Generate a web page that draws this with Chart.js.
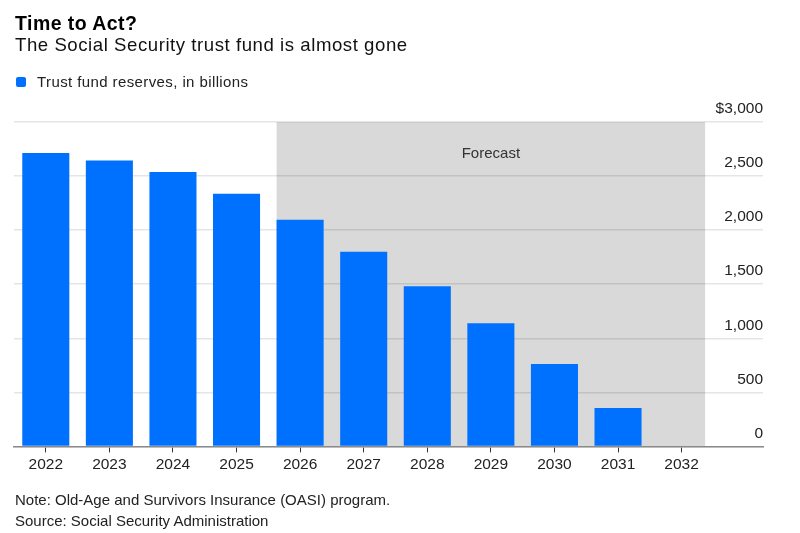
<!DOCTYPE html>
<html>
<head>
<meta charset="utf-8">
<script src="https://cdn.jsdelivr.net/npm/chart.js@4.4.1/dist/chart.umd.min.js"></script>
<style>
  html, body { margin: 0; padding: 0; background: #fff; }
  body { width: 800px; height: 533px; position: relative; overflow: hidden;
         font-family: "Liberation Sans", Arial, sans-serif; color: #111; }
  .t { position: absolute; left: 15px; line-height: 1; white-space: nowrap; }
  #title { top: 14px; font-size: 19.5px; font-weight: bold; color: #000; letter-spacing: 0.45px; }
  #subtitle { top: 36px; font-size: 18.6px; color: #111; letter-spacing: 0.55px; }
  #legend { top: 74px; font-size: 15px; color: #222; left: 37px; letter-spacing: 0.4px; }
  #swatch { position: absolute; left: 16px; top: 77px; width: 10px; height: 10px; border-radius: 2px; }
  #note { top: 492px; font-size: 15px; color: #222; }
  #source { top: 513px; font-size: 15px; color: #222; }
  #wrap { position: absolute; left: 0; top: 0; width: 800px; height: 533px; }
</style>
</head>
<body>
<div id="wrap"><canvas id="c"></canvas></div>
<div class="t" id="title">Time to Act?</div>
<div class="t" id="subtitle">The Social Security trust fund is almost gone</div>
<div id="swatch"></div>
<div class="t" id="legend">Trust fund reserves, in billions</div>
<div class="t" id="note">Note: Old-Age and Survivors Insurance (OASI) program.</div>
<div class="t" id="source">Source: Social Security Administration</div>
<script>
// ---- data ----
const years = [2022, 2023, 2024, 2025, 2026, 2027, 2028, 2029, 2030, 2031, 2032];
const reserves = [2713, 2643, 2537, 2337, 2096, 1800, 1481, 1139, 763, 356, 0];
const seriesLabel = 'Trust fund reserves, in billions';
const yTicks = [0, 500, 1000, 1500, 2000, 2500, 3000];
const forecastStart = 2026;
const forecastLabel = 'Forecast';
const xMin = 2021.5;
const xMax = 2033.28;

const BLUE = '#0070ff';
document.getElementById('swatch').style.background = BLUE;

const FONT = '"Liberation Sans", Arial, sans-serif';

const forecastPlugin = {
  id: 'forecast',
  beforeDraw(chart) {
    const meta = chart.getDatasetMeta(0);
    const y = chart.scales.y;
    const i0 = years.indexOf(forecastStart);
    const first = meta.data[i0];
    const last = meta.data[meta.data.length - 1];
    if (!first || !last) return;
    const left = first.x - first.width / 2;
    const right = last.x + last.width / 2;
    const top = y.getPixelForValue(yTicks[yTicks.length - 1]);
    const bottom = y.getPixelForValue(0);
    const ctx = chart.ctx;
    ctx.save();
    ctx.fillStyle = '#d9d9d9';
    ctx.fillRect(left, top, right - left, bottom - top);
    ctx.fillStyle = '#333';
    ctx.font = '15px ' + FONT;
    ctx.textAlign = 'center';
    ctx.textBaseline = 'middle';
    ctx.fillText(forecastLabel, (left + right) / 2, top + 32);
    ctx.restore();
  }
};

new Chart(document.getElementById('c'), {
  type: 'bar',
  data: {
    datasets: [{
      label: seriesLabel,
      data: years.map((yr, i) => ({ x: yr, y: reserves[i] })),
      backgroundColor: BLUE,
      borderWidth: 0,
      barPercentage: 0.74,
      categoryPercentage: 1.0
    }]
  },
  options: {
    responsive: true,
    maintainAspectRatio: false,
    animation: false,
    devicePixelRatio: 1,
    layout: { padding: { left: 14, right: 37, top: 122, bottom: 56 } },
    plugins: { legend: { display: false }, tooltip: { enabled: false }, title: { display: false } },
    scales: {
      x: {
        type: 'linear',
        offset: false,
        min: xMin,
        max: xMax,
        afterBuildTicks: axis => { axis.ticks = years.map(v => ({ value: v })); },
        grid: { display: true, drawOnChartArea: false, drawTicks: true, tickLength: 6, color: '#333', offset: false },
        border: { display: true, color: '#8a8a8a', width: 1.5 },
        ticks: {
          autoSkip: false, maxRotation: 0, padding: 3,
          color: '#222', font: { family: FONT, size: 15.5 },
          callback: v => String(v)
        }
      },
      y: {
        position: 'right',
        min: 0,
        max: 3000,
        afterBuildTicks: axis => { axis.ticks = yTicks.map(v => ({ value: v })); },
        grid: { color: 'rgba(0,0,0,0.1)', lineWidth: 1.5, drawTicks: false },
        border: { display: false },
        ticks: {
          mirror: true, padding: 0, labelOffset: -13, autoSkip: false,
          color: '#222', font: { family: FONT, size: 15.5 },
          callback: v => (v === 3000 ? '$' : '') + v.toLocaleString('en-US')
        }
      }
    }
  },
  plugins: [forecastPlugin]
});
</script>
</body>
</html>
